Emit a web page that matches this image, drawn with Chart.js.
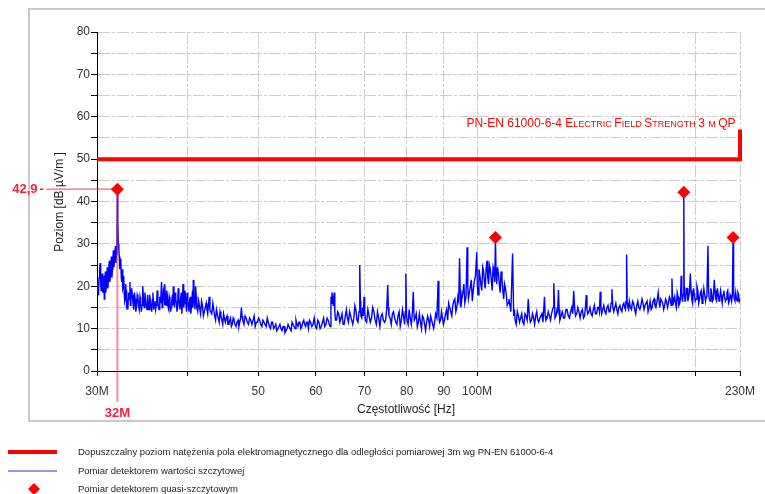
<!DOCTYPE html>
<html><head><meta charset="utf-8">
<script src="https://cdn.jsdelivr.net/npm/chart.js@4.4.1/dist/chart.umd.min.js"></script>
<style>html,body{margin:0;padding:0;background:#fff;}#wrap{width:765px;height:494px;position:relative;}</style>
</head><body><div id="wrap"><canvas id="c" width="765" height="494"></canvas></div>
<script>
// ---- data ----
const xTickValues = [30, 40, 50, 60, 70, 80, 90, 100, 200, 230];
const xTickLabels = ['30M', '', '50', '60', '70', '80', '90', '100M', '', '230M'];
const yTickStep = 5;
const limitFreq = [30, 230, 230];
const limitLevel = [50, 50, 57];
const qpFreq = [32, 106, 192.5, 225];
const qpLevel = [42.9, 31.5, 42.2, 31.5];
const markerFreq = [32];
const markerLevel = [42.9];
const markerLabels = ['42,9', '32M'];
const legendLabels = [
  'Dopuszczalny poziom natężenia pola elektromagnetycznego dla odległości pomiarowej 3m wg PN-EN 61000-6-4',
  'Pomiar detektorem wartości szczytowej',
  'Pomiar detektorem quasi-szczytowym'
];
// peak detector trace, first reading pass (MHz, dBµV/m)
const peakFreq = [
  30.00,30.10,30.20,30.30,30.40,30.50,30.60,30.70,30.80,30.90,31.00,31.10,31.20,31.30,31.40,31.50,31.60,31.70,31.80,31.90,31.96,32.00,32.04,32.10,32.20,32.30,32.40,32.50,32.60,32.70,32.80,32.90,
  33.00,33.15,33.30,33.40,33.55,33.70,33.85,34.00,34.15,34.30,34.45,34.60,34.70,34.85,35.00,35.15,35.30,35.45,35.60,35.75,35.90,36.05,36.20,36.30,36.45,36.60,36.80,36.95,37.10,37.20,37.35,37.50,37.65,37.80,37.95,38.10,38.20,38.35,38.50,38.65,38.80,38.95,39.10,39.25,39.40,39.55,39.70,39.85,40.00,40.15,40.30,40.45,40.60,40.70,40.85,41.00,
  41.15,41.40,41.65,41.90,42.15,42.40,42.60,42.80,43.00,43.30,43.55,43.80,44.05,44.30,44.55,44.80,45.05,45.30,45.55,45.80,46.05,46.30,46.60,46.90,47.15,47.40,47.60,
  47.95,48.30,48.65,49.00,49.35,49.70,50.05,50.40,50.75,51.10,51.45,51.80,52.15,52.50,52.85,53.20,53.55,53.90,54.25,54.60,54.95,55.30,55.65,56.00,56.35,56.70,57.05,57.40,57.75,58.10,58.45,
  58.80,59.25,59.70,60.15,60.60,61.05,61.50,61.95,62.40,62.80,62.95,63.15,63.40,63.60,63.85,64.30,64.75,65.20,65.65,66.10,66.55,67.00,67.45,67.90,68.35,68.80,69.00,69.20,69.60,69.90,70.20,
  70.75,71.30,71.85,72.40,72.95,73.50,74.05,74.60,75.10,75.35,75.65,76.20,76.75,77.30,77.85,78.40,78.95,79.50,79.80,80.10,80.65,81.20,81.70,82.20,82.75,83.30,83.85,84.40,84.95,85.50,86.05,86.60,87.15,87.70,88.40,88.80,89.35,89.90,
  90.50,91.10,91.70,92.30,92.90,93.50,94.10,94.60,95.00,95.60,96.20,96.90,97.30,97.90,98.50,99.10,99.90,100.3,100.9,101.5,102.1,102.6,103.2,103.7,104.3,104.9,105.5,106.0,106.4,107.0,107.6,108.2,108.8,109.4,110.0,110.6,111.3,111.9,112.3,
  112.8,113.6,114.4,115.2,116.0,116.8,117.6,118.4,119.2,120.0,120.8,121.6,122.4,123.2,123.8,124.4,
  125.3,126.2,127.0,127.5,128.0,128.8,129.4,130.0,131.0,132.0,133.0,134.0,135.0,135.8,136.6,137.6,138.6,139.6,140.6,141.3,142.0,143.0,144.0,145.0,146.0,147.0,147.7,148.4,149.4,150.4,151.4,152.4,153.3,154.2,155.2,156.2,157.2,158.2,159.2,160.0,160.6,161.2,
  162.0,163.1,164.2,165.3,166.4,167.5,168.6,169.7,170.8,171.9,173.0,174.1,175.2,176.2,177.5,178.4,179.5,180.6,181.7,182.8,183.9,184.9,185.4,186.0,187.0,188.0,189.0,190.0,190.9,191.6,192.1,192.5,192.9,193.6,194.5,195.5,196.5,197.4,198.5,199.6,200.7,201.8,202.9,204.0,205.1,206.2,207.1,207.8,208.6,209.7,210.8,212.0,213.0,214.1,215.2,216.3,217.4,218.5,219.6,220.7,221.8,222.9,224.0,225.0,225.8,226.9,228.0,229.0,230.0
];
const peakLevel = [
  20.5,18.0,22.0,25.5,19.0,23.0,21.0,17.0,23.5,20.0,24.5,21.5,26.0,22.5,27.0,24.0,28.5,26.0,29.5,27.5,30.5,42.5,35.0,30.0,27.0,25.5,22.0,24.0,20.0,18.5,17.0,19.0,
  16.0,18.5,21.0,16.5,18.0,14.5,17.0,15.0,17.5,14.5,16.5,15.5,20.0,15.0,17.0,14.5,16.0,18.0,15.0,17.0,14.5,16.5,15.5,19.0,15.0,17.5,21.0,16.0,18.0,20.5,15.5,17.5,14.5,16.5,15.0,18.0,20.0,15.0,17.0,14.0,19.5,15.5,17.0,13.5,20.5,16.0,18.0,14.0,16.5,14.0,17.5,15.0,19.0,21.5,16.0,20.0,
  15.0,16.5,13.5,15.5,14.0,16.0,13.5,17.5,14.0,16.0,13.0,14.5,12.5,14.0,12.0,13.5,11.5,13.0,11.0,12.5,11.0,12.0,10.5,12.0,11.5,15.0,12.0,
  13.0,11.5,12.5,11.0,13.0,11.5,12.5,11.0,12.0,11.0,12.5,10.5,11.5,10.0,11.0,10.0,11.0,9.5,10.5,9.5,11.0,10.0,11.5,10.5,12.0,10.5,11.5,10.5,12.0,10.5,11.5,
  12.0,10.5,12.5,10.0,11.5,10.5,12.5,11.0,12.0,10.5,17.5,18.5,15.5,18.5,12.0,14.0,11.5,13.5,11.0,14.5,11.5,13.0,11.0,15.5,12.0,14.0,25.0,13.0,15.0,17.5,12.0,
  14.5,11.5,15.0,12.0,14.0,10.5,13.5,11.5,14.5,20.3,13.0,11.0,14.0,11.5,13.0,10.5,14.5,11.0,23.0,12.0,14.5,11.0,18.7,12.5,10.5,13.5,10.0,12.5,9.5,13.0,10.5,12.0,10.0,13.5,21.3,11.5,14.0,11.0,
  13.5,12.0,15.0,13.0,16.5,14.0,17.5,26.6,15.0,18.5,16.0,29.2,17.0,20.0,16.5,21.0,28.0,18.0,22.5,19.0,23.5,19.5,26.0,20.5,24.0,19.0,23.5,31.0,20.5,23.0,18.5,22.0,17.0,19.5,15.5,17.0,14.0,27.7,13.0,
  12.0,14.0,11.5,13.5,11.0,13.0,17.0,11.5,13.5,11.0,14.0,11.5,13.0,11.5,17.5,12.0,
  14.0,12.0,14.5,20.7,12.5,14.5,19.1,12.0,14.0,12.5,14.5,12.5,15.0,18.9,13.0,15.0,12.5,14.5,13.0,17.9,13.5,15.0,13.0,15.5,13.5,15.0,18.7,13.5,15.5,13.5,15.5,14.0,19.3,14.0,16.0,13.5,15.5,14.0,16.0,14.5,27.5,15.0,
  16.5,14.5,16.0,13.5,16.5,14.5,17.0,14.5,16.0,14.0,16.5,15.0,17.0,15.0,18.5,15.0,16.5,14.5,17.0,15.0,17.5,15.5,21.8,15.5,17.5,15.0,17.5,16.0,22.5,16.5,18.0,42.0,18.5,17.0,19.5,17.5,23.0,17.0,19.5,16.5,20.0,16.0,18.5,16.0,19.5,16.5,18.0,29.5,17.0,19.5,16.5,21.5,17.0,19.5,16.5,19.0,16.0,19.0,16.5,18.5,16.0,18.0,16.5,31.0,17.0,18.5,16.5,18.0,17.0
];
// peak detector trace, second reading pass (in-between samples)
const peakFreq2 = [
  30.05,30.15,30.25,30.35,30.45,30.55,30.65,30.75,30.85,30.95,31.05,31.15,31.25,31.35,31.45,31.55,31.65,31.75,31.85,32.15,32.25,32.35,32.45,32.55,32.65,32.75,32.85,32.95,
  33.08,33.22,33.35,33.48,33.62,33.78,33.92,34.08,34.22,34.38,34.52,34.65,34.78,34.92,35.08,35.22,35.38,35.52,35.68,35.82,35.98,36.12,36.25,36.38,36.52,36.70,36.88,37.02,37.15,37.28,37.42,37.58,37.72,37.88,38.02,38.15,38.28,38.42,38.58,38.72,38.88,39.02,39.18,39.32,39.48,39.62,39.78,39.92,40.08,40.22,40.38,40.52,40.65,40.78,40.92,
  41.08,41.28,41.52,41.78,42.02,42.28,42.50,42.70,42.90,43.15,43.42,43.68,43.92,44.18,44.42,44.68,44.92,45.18,45.42,45.68,45.92,46.18,46.45,46.75,47.02,47.28,47.50,
  47.78,48.12,48.48,48.82,49.18,49.52,49.88,50.22,50.58,50.92,51.28,51.62,51.98,52.32,52.68,53.02,53.38,53.72,54.08,54.42,54.78,55.12,55.48,55.82,56.18,56.52,56.88,57.22,57.58,57.92,58.28,58.62,
  59.02,59.48,59.92,60.38,60.82,61.28,61.72,62.18,62.60,63.05,63.28,63.50,63.72,64.08,64.52,64.98,65.42,65.88,66.32,66.78,67.22,67.68,68.12,68.58,68.92,69.10,69.40,69.75,70.05,
  70.48,71.02,71.58,72.12,72.68,73.22,73.78,74.32,74.85,75.50,75.92,76.48,77.02,77.58,78.12,78.68,79.22,79.65,79.95,80.38,80.92,81.45,81.95,82.48,83.02,83.58,84.12,84.68,85.22,85.78,86.32,86.88,87.42,88.05,88.60,89.08,89.62,
  90.20,90.80,91.40,92.00,92.60,93.20,93.80,94.35,94.80,95.30,95.90,96.55,97.10,97.60,98.20,98.80,99.50,100.1,100.6,101.2,101.8,102.35,102.9,103.45,104.0,104.6,105.2,105.75,106.2,106.7,107.3,107.9,108.5,109.1,109.7,110.3,110.95,
  112.55,113.2,114.0,114.8,115.6,116.4,117.2,118.0,118.8,119.6,120.4,121.2,122.0,122.8,124.1,
  124.85,125.75,126.6,127.25,128.4,129.1,129.7,130.5,131.5,132.5,133.5,134.5,135.4,136.2,137.1,138.1,139.1,140.1,140.95,141.65,142.5,143.5,144.5,145.5,146.5,147.35,148.05,148.9,149.9,150.9,151.9,152.85,153.75,154.7,155.7,156.7,157.7,158.7,159.6,160.3,160.9,
  161.6,162.55,163.65,164.75,165.85,166.95,168.05,169.15,170.25,171.35,172.45,173.55,174.65,175.7,176.85,177.95,178.95,180.05,181.15,182.25,183.35,184.4,185.7,186.5,187.5,188.5,189.5,190.45,191.25,191.85,192.7,193.25,194.05,195.0,196.0,196.95,197.95,199.05,200.15,201.25,202.35,203.45,204.55,205.65,206.65,208.2,209.15,210.25,211.4,212.5,213.55,214.65,215.75,216.85,217.95,219.05,220.15,221.25,222.35,223.45,224.5,225.4,226.35,227.45,228.5,229.5
];
const peakLevel2 = [
  21.0,19.5,24.0,20.5,22.0,18.5,22.5,20.0,18.5,23.0,19.5,25.0,21.0,25.5,22.0,26.5,24.5,28.0,25.5,28.5,24.0,26.5,21.0,19.5,22.5,16.5,20.5,15.5,
  14.5,17.0,15.5,19.5,16.0,18.5,14.0,18.0,15.5,17.5,14.0,18.0,16.5,18.5,15.5,18.0,14.5,16.5,14.0,18.5,16.0,14.5,17.0,16.5,14.5,16.0,15.0,19.0,15.5,17.0,19.0,15.0,17.5,14.0,16.5,15.5,17.0,18.5,16.0,15.0,17.5,14.5,18.5,16.0,15.0,19.0,15.5,18.5,15.5,16.5,13.5,17.0,15.0,17.0,14.5,
  17.5,14.0,15.0,16.5,13.0,15.0,14.5,15.5,14.5,13.5,14.5,12.0,13.5,11.5,13.0,11.0,12.5,12.5,11.0,12.0,10.5,12.5,11.0,11.5,10.5,12.5,13.0,
  11.0,12.5,11.0,12.0,12.0,10.5,11.5,12.0,10.5,11.5,10.5,11.5,10.0,11.5,10.5,9.5,10.5,10.0,10.5,9.0,10.0,10.5,9.5,11.0,10.0,11.0,11.5,10.0,11.5,11.0,11.5,10.0,
  11.5,11.0,10.5,12.0,10.0,11.5,10.5,12.5,11.0,16.0,17.5,16.5,14.0,12.0,13.5,12.5,11.0,13.0,12.5,14.0,12.0,12.5,14.5,11.5,15.5,16.5,12.5,13.0,14.5,
  11.5,13.0,12.5,14.0,11.0,12.5,13.0,12.0,12.0,15.0,12.5,13.5,12.5,11.0,14.0,12.0,13.0,14.0,13.5,11.0,12.5,13.5,12.0,13.5,11.5,11.5,13.0,11.0,11.5,12.0,13.0,11.0,11.5,12.5,13.0,12.0,12.5,
  12.0,14.5,16.0,14.0,15.5,17.0,15.0,16.5,19.0,17.0,20.5,17.5,20.0,18.5,21.5,19.0,22.5,20.0,24.0,20.5,24.5,21.0,24.0,22.0,25.0,21.5,24.5,21.0,23.5,24.5,20.5,23.5,19.0,20.5,18.0,16.0,15.5,
  14.5,11.0,13.0,12.5,11.5,13.5,12.0,13.0,12.0,12.5,13.0,12.0,12.5,13.5,13.0,
  12.5,13.0,13.5,15.0,13.0,14.0,14.5,13.0,12.5,14.5,13.0,14.0,13.5,15.0,13.5,14.0,14.0,12.5,15.0,14.5,14.0,13.5,14.5,13.5,15.0,14.0,15.0,14.5,14.0,15.0,14.0,16.0,15.0,15.0,14.5,15.0,14.5,15.5,15.0,16.5,16.0,
  14.5,15.0,16.5,14.5,15.5,15.0,15.5,16.0,15.5,16.5,15.0,14.5,16.5,15.5,16.5,16.5,17.0,16.0,15.5,16.5,16.0,17.0,17.5,16.5,16.0,18.5,15.5,17.0,19.0,17.0,20.0,16.5,19.5,16.5,18.5,19.0,16.0,18.0,17.0,19.0,17.0,19.0,17.5,18.0,17.5,19.0,16.5,18.5,17.0,19.0,16.5,18.0,17.5,17.5,18.0,17.5,17.0,19.0,16.5,17.5,18.0,19.0,16.5,17.0,18.5,16.5
];

// ---- rendering ----
const FONT = '"Liberation Sans", Arial, sans-serif';
const pts = (xs, ys) => xs.map((x, i) => ({x: x, y: ys[i]}));
const tracePts = pts(peakFreq, peakLevel).concat(pts(peakFreq2, peakLevel2)).sort((a, b) => a.x - b.x);

const decorPlugin = {
  id: 'decor',
  beforeDraw(chart) {
    const ctx = chart.ctx;
    ctx.save();
    ctx.fillStyle = '#fff';
    ctx.fillRect(0, 0, chart.width, chart.height);
    ctx.strokeStyle = '#c8c8c8';
    ctx.lineWidth = 2;
    ctx.beginPath();
    ctx.moveTo(770, 9); ctx.lineTo(29, 9); ctx.lineTo(29, 421); ctx.lineTo(770, 421);
    ctx.stroke();
    ctx.restore();
  },
  afterDatasetDraw(chart, args) {
    if (args.index !== 2) return;
    const ctx = chart.ctx;
    const x = chart.scales.x.getPixelForValue(markerFreq[0]);
    const y = chart.scales.y.getPixelForValue(markerLevel[0]);
    ctx.save();
    ctx.strokeStyle = 'rgba(255,40,70,0.75)';
    ctx.lineWidth = 1.2;
    ctx.beginPath(); ctx.moveTo(46, y); ctx.lineTo(x, y); ctx.stroke();
    ctx.strokeStyle = 'rgba(255,40,70,0.55)';
    ctx.lineWidth = 2;
    ctx.beginPath(); ctx.moveTo(x, y); ctx.lineTo(x, 402); ctx.stroke();
    ctx.strokeStyle = '#ff1a3c';
    ctx.lineWidth = 1.5;
    ctx.beginPath(); ctx.moveTo(40, y); ctx.lineTo(43.5, y); ctx.stroke();
    ctx.fillStyle = '#ff1a3c';
    ctx.font = 'bold 13px ' + FONT;
    ctx.textBaseline = 'middle';
    ctx.textAlign = 'right';
    ctx.fillText(markerLabels[0], 37.5, y);
    ctx.textAlign = 'center';
    ctx.fillText(markerLabels[1], x, 413);
    ctx.restore();
  },
  afterDraw(chart) {
    const ctx = chart.ctx;
    ctx.save();
    ctx.fillStyle = '#222';
    ctx.font = '12px ' + FONT;
    ctx.textAlign = 'center';
    ctx.textBaseline = 'middle';
    ctx.fillText('Częstotliwość [Hz]', 406, 410);
    ctx.save();
    ctx.translate(60, 202);
    ctx.rotate(-Math.PI / 2);
    ctx.fillText('Poziom [dB µV/m ]', 0, 0);
    ctx.restore();
    // limit label (small caps)
    const segs = [['PN-EN 61000-6-4 ', 12], ['E', 12], ['LECTRIC ', 9], ['F', 12], ['IELD ', 9], ['S', 12], ['TRENGTH ', 9], ['3 ', 12], ['M ', 9], ['QP', 12]];
    let total = 0;
    segs.forEach(s => { ctx.font = s[1] + 'px ' + FONT; total += ctx.measureText(s[0]).width; });
    let cx = 735.5 - total;
    ctx.fillStyle = '#ff0000';
    ctx.textAlign = 'left';
    ctx.textBaseline = 'alphabetic';
    segs.forEach(s => { ctx.font = s[1] + 'px ' + FONT; ctx.fillText(s[0], cx, 127.3); cx += ctx.measureText(s[0]).width; });
    // legend
    const rows = [452, 471, 489];
    ctx.strokeStyle = '#ff0000'; ctx.lineWidth = 4;
    ctx.beginPath(); ctx.moveTo(8, rows[0]); ctx.lineTo(57, rows[0]); ctx.stroke();
    ctx.strokeStyle = '#2030ff'; ctx.lineWidth = 1.2;
    ctx.beginPath(); ctx.moveTo(8, rows[1]); ctx.lineTo(57, rows[1]); ctx.stroke();
    ctx.fillStyle = '#ff0000';
    ctx.beginPath();
    ctx.moveTo(34, rows[2] - 6); ctx.lineTo(40, rows[2]); ctx.lineTo(34, rows[2] + 6); ctx.lineTo(28, rows[2]); ctx.closePath();
    ctx.fill();
    ctx.fillStyle = '#222';
    ctx.font = '9.5px ' + FONT;
    ctx.textBaseline = 'middle';
    legendLabels.forEach((t, i) => ctx.fillText(t, 78, rows[i]));
    ctx.restore();
  }
};

const gridDash = [12, 2, 3, 2];
new Chart(document.getElementById('c'), {
  type: 'scatter',
  data: {
    datasets: [
      { label: 'QP', data: pts(qpFreq, qpLevel), order: 0, pointStyle: 'rectRot', pointRadius: 6.5, pointHoverRadius: 6.5, backgroundColor: '#ff0000', borderWidth: 0, clip: false },
      { label: 'Limit', data: pts(limitFreq, limitLevel), order: 1, showLine: true, borderColor: '#ff0000', borderWidth: 4, pointRadius: 0, borderCapStyle: 'butt', borderJoinStyle: 'miter', clip: false },
      { label: 'Peak', data: tracePts, order: 2, showLine: true, borderColor: '#0000ff', borderWidth: 1.4, pointRadius: 0, tension: 0 }
    ]
  },
  options: {
    responsive: false,
    animation: false,
    devicePixelRatio: 1,
    layout: { padding: { left: 0, top: 32, right: 25, bottom: 93 } },
    plugins: { legend: { display: false }, tooltip: { enabled: false } },
    scales: {
      x: {
        type: 'logarithmic', min: 30, max: 230,
        afterBuildTicks: (axis) => { axis.ticks = xTickValues.map(v => ({ value: v })); },
        afterFit: (s) => { s.height = 30; },
        ticks: { autoSkip: false, maxRotation: 0, padding: 8, color: '#333', font: { family: FONT, size: 12 },
          callback: (v, i) => xTickLabels[i] },
        grid: { color: '#cdcdcd', lineWidth: 1, tickColor: '#000', tickLength: 5 },
        border: { color: '#000', width: 1, dash: gridDash }
      },
      y: {
        type: 'linear', min: 0, max: 80,
        afterFit: (s) => { s.width = 97; },
        ticks: { stepSize: yTickStep, autoSkip: false, padding: 1, color: '#333', font: { family: FONT, size: 12 },
          callback: (v) => (v % 10 === 0 ? String(v) : '') },
        grid: { color: '#cdcdcd', lineWidth: 1, tickColor: '#000', tickLength: 6 },
        border: { color: '#000', width: 1, dash: gridDash }
      }
    }
  },
  plugins: [decorPlugin]
});
</script>
</body></html>
